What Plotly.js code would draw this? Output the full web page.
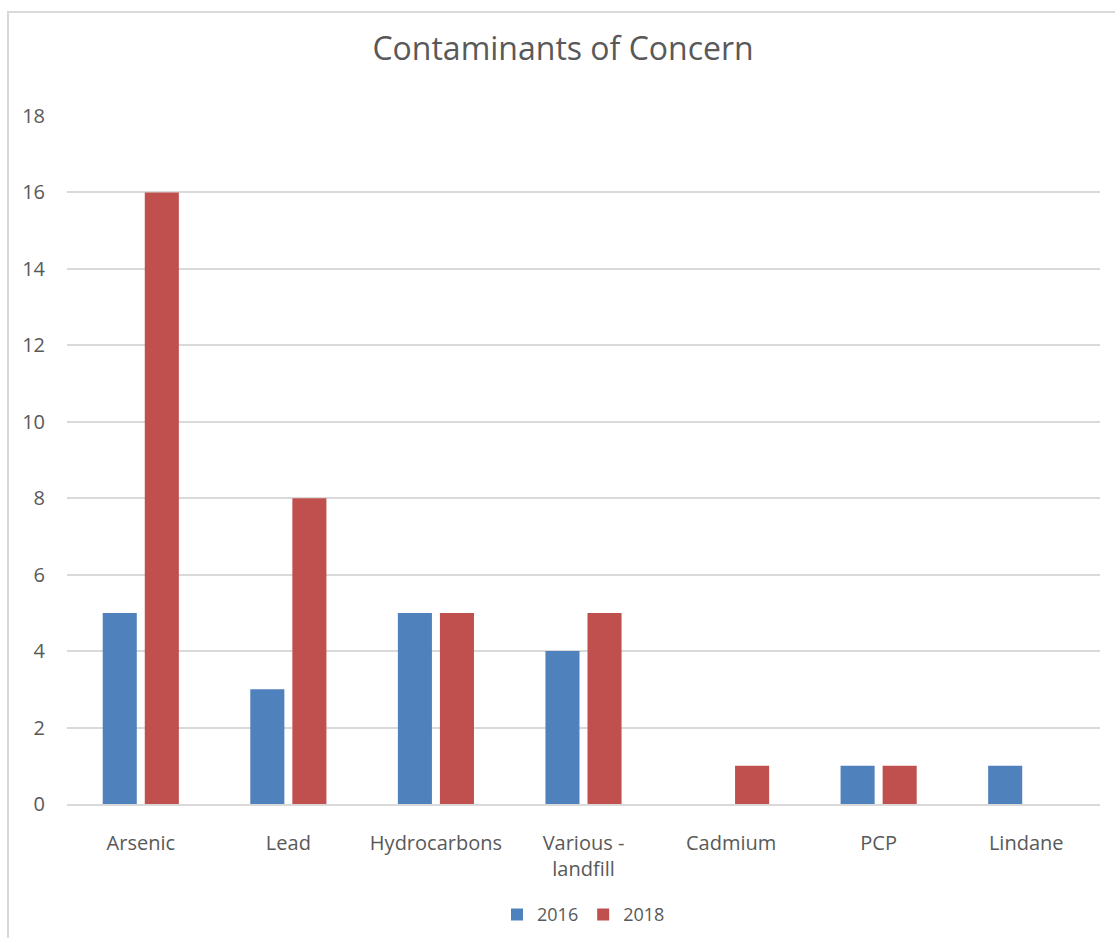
<!DOCTYPE html>
<html>
<head>
<meta charset="utf-8">
<script src="https://cdn.plot.ly/plotly-3.0.1.min.js"></script>
<style>
  html, body { margin: 0; padding: 0; background: #fff; }
  #wrap { position: relative; width: 1115px; height: 938px; }
  #frame { position: absolute; left: 7px; top: 11px; width: 1200px; height: 1000px;
           border-left: 2px solid #d9d9d9; border-top: 2px solid #d9d9d9; pointer-events: none; }
  #chart { position: absolute; left: 0; top: 0; width: 1115px; height: 938px; }
</style>
</head>
<body>
<div id="wrap">
  <div id="chart"></div>
  <div id="frame"></div>
</div>
<script>
// Contaminant categories and counts per survey year
const categories = ["Arsenic", "Lead", "Hydrocarbons", "Various -<br>landfill", "Cadmium", "PCP", "Lindane"];
const counts2016 = [5, 3, 5, 4, 0, 1, 1];
const counts2018 = [16, 8, 5, 5, 1, 1, 0];
const yTicks = [0, 2, 4, 6, 8, 10, 12, 14, 16, 18];

const textColor = "#595959";
const font = "Open Sans, sans-serif";

const traces = [
  { type: "bar", name: "2016", x: categories, y: counts2016, marker: { color: "#4F81BD" }, hoverinfo: "y" },
  { type: "bar", name: "2018", x: categories, y: counts2018, marker: { color: "#C0504D" }, hoverinfo: "y" }
];

const layout = {
  width: 1115, height: 938,
  margin: { l: 67, r: 15, t: 116, b: 134, autoexpand: false },
  paper_bgcolor: "#fff", plot_bgcolor: "#fff",
  font: { family: font, color: textColor, size: 20 },
  title: { text: "Contaminants of Concern", font: { size: 32, color: textColor, family: font },
           x: 0.505, xanchor: "center", y: 0.948, yanchor: "middle" },
  barmode: "group",
  bargap: 0.43,
  bargroupgap: 0.19,
  xaxis: {
    type: "category", showgrid: false, zeroline: false,
    showline: true, linecolor: "#d9d9d9", linewidth: 2,
    ticks: "", tickfont: { size: 20, color: textColor },
    ticklabelstandoff: 20
  },
  yaxis: {
    range: [0, 18], tickvals: yTicks, ticktext: yTicks.map(String),
    showgrid: true, gridcolor: "#d9d9d9", gridwidth: 2,
    zeroline: false, showline: false, ticks: "",
    tickfont: { size: 20, color: textColor },
    ticklabelstandoff: 21
  },
  showlegend: true,
  legend: { orientation: "h", x: 0.5, xanchor: "center", y: -0.161, yanchor: "middle",
            font: { size: 18, color: textColor }, itemwidth: 30, traceorder: "normal" }
};

Plotly.newPlot("chart", traces, layout, { displayModeBar: false, staticPlot: true });
</script>
</body>
</html>
